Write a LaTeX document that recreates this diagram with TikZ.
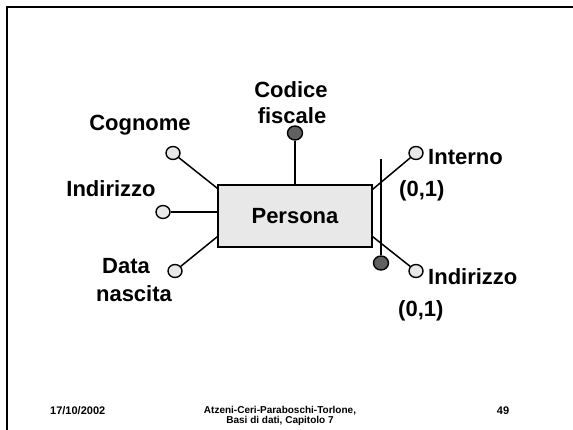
\documentclass[tikz,border=0pt]{standalone}
\usepackage{fontspec}
\setmainfont{Liberation Sans}
\usetikzlibrary{shapes.geometric}
\definecolor{lightfill}{HTML}{E8E8E8}
\definecolor{darkfill}{HTML}{606060}
\begin{document}
\begin{tikzpicture}[x=1pt,y=-1pt,
  lbl/.style={font=\fontsize{22}{26}\selectfont\bfseries, inner sep=0pt},
  foot/.style={font=\fontsize{10}{12}\selectfont\bfseries, inner sep=0pt},
  conn/.style={line width=1.5pt},
  attr/.style={ellipse, draw, line width=1.4pt, fill=lightfill, minimum width=14pt, minimum height=13pt, inner sep=0pt},
  keyattr/.style={ellipse, draw, line width=1.4pt, fill=darkfill, minimum width=15pt, minimum height=14pt, inner sep=0pt},
  entity/.style={rectangle, draw, line width=1.5pt, fill=lightfill, minimum width=154pt, minimum height=62pt, inner sep=0pt, font=\fontsize{22}{26}\selectfont\bfseries}]
\useasboundingbox (0,0) rectangle (573,430);
% slide border
\draw[line width=2pt] (7,430) -- (7,7) -- (573,7);

% entity
\node[entity] (p) at (295,216) {Persona};

% attribute circles
\node[keyattr] (cf) at (295,133) {};
\node[attr] (cog) at (173,153) {};
\node[attr] (ind) at (163,212) {};
\node[attr] (dat) at (175,271) {};
\node[attr] (int) at (416,153) {};
\node[attr] (ind2) at (416,271) {};
\node[keyattr] (kd) at (381,263) {};
\coordinate (vtop) at (381,159);

% connectors
\draw[conn] (cf) -- (p.north);
\draw[conn] (cog) -- ([yshift=-4pt]p.north west);
\draw[conn] (ind) -- ([yshift=4pt]p.west);
\draw[conn] (dat) -- ([yshift=11pt]p.south west);
\draw[conn] (int) -- ([yshift=-5pt]p.north east);
\draw[conn] (ind2) -- ([yshift=11pt]p.south east);
\draw[conn] (vtop) -- (kd);

% labels
\node[lbl, anchor=base] (lcf1) at (291,98) {Codice};
\node[lbl, anchor=base] (lcf2) at (292,124) {fiscale};
\node[lbl, anchor=base] (lcog) at (140,131) {Cognome};
\node[lbl, anchor=base] (lind) at (111,197) {Indirizzo};
\node[lbl, anchor=base] (ldat1) at (126,274) {Data};
\node[lbl, anchor=base] (ldat2) at (134,302) {nascita};
\node[lbl, anchor=base west] (lint) at (428,165) {Interno};
\node[lbl, anchor=base west] (lcard1) at (399,197) {(0,1)};
\node[lbl, anchor=base west] (lind2) at (428,285) {Indirizzo};
\node[lbl, anchor=base west] (lcard2) at (398,317) {(0,1)};

% footer
\node[foot, font=\fontsize{11}{13}\selectfont\bfseries, anchor=base west] (fdate) at (50,414) {17/10/2002};
\node[foot, anchor=base] (fauth) at (280,413) {Atzeni-Ceri-Paraboschi-Torlone,};
\node[foot, anchor=base] (fbook) at (280,423) {Basi di dati, Capitolo 7};
\node[foot, font=\fontsize{11}{13}\selectfont\bfseries, anchor=base] (fpage) at (503,414) {49};
\end{tikzpicture}
\end{document}
